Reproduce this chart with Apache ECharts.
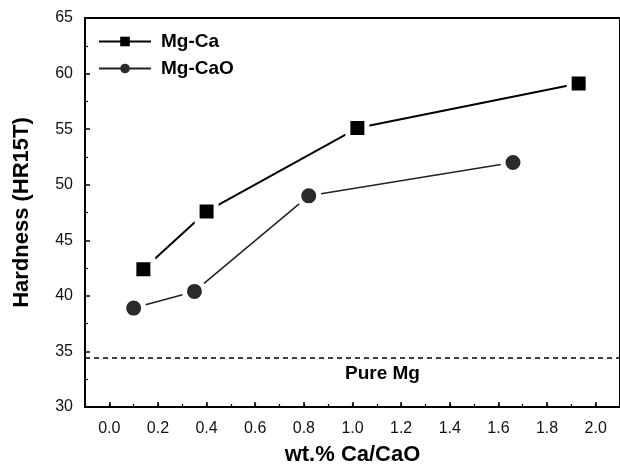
<!DOCTYPE html>
<html><head><meta charset="utf-8">
<script src="https://cdn.jsdelivr.net/npm/echarts@6/dist/echarts.min.js"></script>
<style>html,body{margin:0;padding:0;background:#fff}#c{width:620px;height:474px}</style>
</head><body><div id="c"></div>
<script>
// Data
const seriesNames = ['Mg-Ca', 'Mg-CaO'];
const caX = [0.14, 0.40, 1.02, 1.93];
const caY = [42.4, 47.6, 55.1, 59.1];
const caoX = [0.10, 0.35, 0.82, 1.66];
const caoY = [38.9, 40.4, 49.0, 52.0];
const pureMgValue = 34.4;
const pureMgLabel = 'Pure Mg';
const xName = 'wt.% Ca/CaO';
const yName = 'Hardness (HR15T)';

const FONT = "'Liberation Sans', Arial, sans-serif";
const chart = echarts.init(document.getElementById('c'), null, {renderer: 'canvas'});

const option = {
  backgroundColor: '#fff',
  animation: false,
  grid: {left: 85, top: 18, bottom: 67, right: -5, show: true, borderColor: '#000', borderWidth: 2, backgroundColor: 'transparent'},
  legend: {
    orient: 'vertical', left: 93, top: 27,
    itemWidth: 52, itemHeight: 12, itemGap: 8,
    textStyle: {fontFamily: FONT, fontSize: 19, fontWeight: 'bold', color: '#000', padding: [0, 0, 0, 5]},
    data: [
      {name: seriesNames[0], itemStyle: {borderWidth: 0}},
      {name: seriesNames[1], itemStyle: {borderWidth: 0}}
    ]
  },
  xAxis: [{
    type: 'value', min: -0.1, max: 2.1, splitNumber: 11,
    name: xName, nameLocation: 'middle', nameGap: 37,
    nameTextStyle: {fontFamily: FONT, fontSize: 22, fontWeight: 'bold', color: '#000'},
    axisLine: {show: true, onZero: false, lineStyle: {color: '#000', width: 2}},
    axisTick: {show: true, inside: true, length: 5, lineStyle: {color: '#000', width: 1.5}},
    axisLabel: {showMinLabel: false, showMaxLabel: false, margin: 14, fontFamily: FONT, fontSize: 16, color: '#111',
      formatter: v => v.toFixed(1)},
    splitLine: {show: false}
  }, {
    type: 'value', min: -0.1, max: 2.1, interval: 0.1, position: 'bottom',
    axisLine: {show: false, onZero: false},
    axisTick: {show: true, inside: true, length: 3, lineStyle: {color: '#000', width: 1.2}},
    axisLabel: {show: false}, splitLine: {show: false}
  }],
  yAxis: {
    type: 'value', min: 30, max: 65, interval: 5,
    name: yName, nameLocation: 'middle', nameGap: 52,
    nameTextStyle: {fontFamily: FONT, fontSize: 22, fontWeight: 'bold', color: '#000'},
    axisLine: {show: true, onZero: false, lineStyle: {color: '#000', width: 2}},
    axisTick: {show: true, inside: true, length: 5, lineStyle: {color: '#000', width: 1.5}},
    minorTick: {show: true, splitNumber: 2, length: 3, lineStyle: {color: '#000', width: 1.2}},
    axisLabel: {margin: 12, fontFamily: FONT, fontSize: 16, color: '#111'},
    splitLine: {show: false}
  },
  series: [{
    name: seriesNames[0], type: 'line',
    data: caX.map((x, i) => [x, caY[i]]),
    symbol: 'rect', symbolSize: 19,
    lineStyle: {color: '#000', width: 2},
    itemStyle: {color: '#000', borderColor: '#fff', borderWidth: 5},
    z: 3,
    markLine: {
      silent: true, symbol: 'none',
      data: [{yAxis: pureMgValue}],
      lineStyle: {type: [5, 4], color: '#000', width: 1.5},
      label: {show: true, formatter: pureMgLabel, position: 'insideMiddleBottom', distance: 6, offset: [30, 0],
        fontFamily: FONT, fontSize: 19, fontWeight: 'bold', color: '#000'}
    }
  }, {
    name: seriesNames[1], type: 'line',
    data: caoX.map((x, i) => [x, caoY[i]]),
    symbol: 'circle', symbolSize: 20,
    lineStyle: {color: '#222', width: 1.5},
    itemStyle: {color: '#2a2a2a', borderColor: '#fff', borderWidth: 5},
    z: 3
  }]
};
chart.setOption(option);
</script></body></html>
